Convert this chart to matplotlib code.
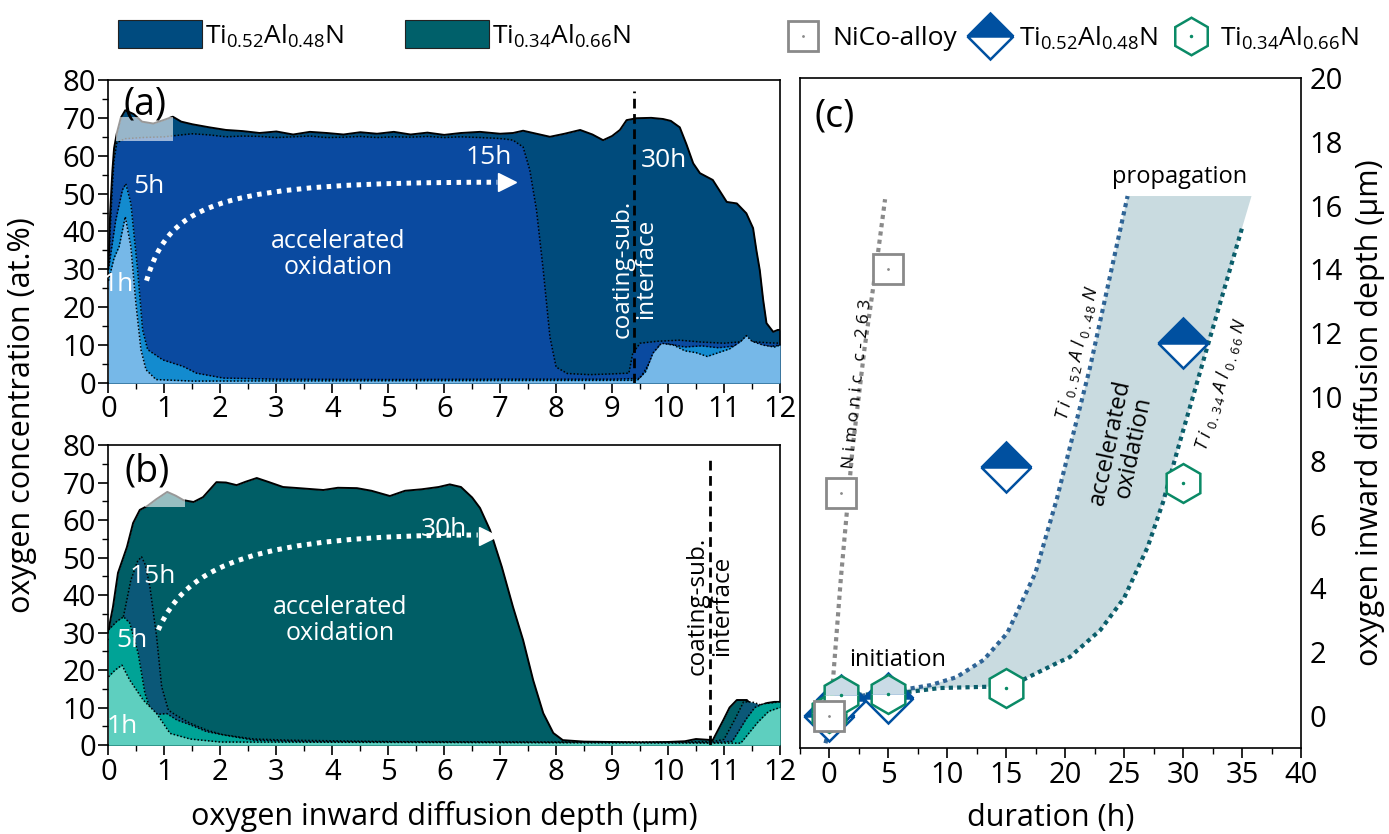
import matplotlib
matplotlib.use("Agg")
import matplotlib.pyplot as plt
from matplotlib.patches import Rectangle, Patch, PathPatch, Polygon
from matplotlib.lines import Line2D
from matplotlib.path import Path
from matplotlib.ticker import MultipleLocator

plt.rcParams['font.family'] = ['Open Sans', 'DejaVu Sans']
plt.rcParams['mathtext.fontset'] = 'custom'
plt.rcParams['mathtext.rm'] = 'Open Sans'
plt.rcParams['mathtext.it'] = 'Open Sans:italic'
plt.rcParams['mathtext.default'] = 'regular'

# ---------------- depth profiles, Ti0.52Al0.48N (panel a) ----------------
a30_x = [0.00, 0.03, 0.07, 0.10, 0.15, 0.22, 0.30, 0.45, 0.60, 0.80, 1.00, 1.15, 1.30, 1.50, 1.80,
         2.10, 2.40, 2.70, 3.00, 3.30, 3.60, 3.90, 4.20, 4.50, 4.80, 5.10, 5.40, 5.70, 6.00, 6.30,
         6.64, 7.00, 7.23, 7.41, 7.65, 7.89, 8.15, 8.43, 8.65, 8.84, 9.00, 9.14, 9.26, 9.44, 9.70,
         9.91, 10.05, 10.21, 10.33, 10.45, 10.57, 10.80, 11.05, 11.23, 11.40, 11.52, 11.58,
         11.64, 11.70, 11.76, 11.88, 11.96, 12.00]
a30_y = [30, 45, 56, 62, 66, 70, 72, 71, 69, 68.5, 69.5, 70.3, 69, 68.3, 67.5,
         66.8, 66.5, 66, 66.4, 65.6, 66.3, 66, 65.6, 66.2, 65.8, 66.3, 65.6, 66.1, 65.5, 66,
         66.3, 65.8, 66, 66.6, 65.8, 65, 65.8, 66.8, 65.6, 64.1, 65.2, 66.8, 69.4, 69.9, 70,
         69.7, 69.2, 67.5, 63, 58, 55.4, 53.6, 47.8, 47.4, 44.8, 40.9, 35,
         29.8, 22, 15.8, 13.5, 14, 14]

a15_x = [0.00, 0.03, 0.07, 0.10, 0.15, 0.30, 0.60, 1.00, 1.30, 1.50, 1.80, 2.10, 2.40, 2.70, 3.00,
         3.30, 3.60, 3.90, 4.20, 4.50, 4.80, 5.10, 5.40, 5.70, 6.00, 6.30, 6.64, 6.94, 7.10, 7.23,
         7.41, 7.53, 7.65, 7.77, 7.89, 8.00, 8.20, 8.60, 9.00, 9.30, 9.37, 9.50, 9.80, 10.20,
         10.60, 11.00, 11.40, 11.80, 12.00]
a15_y = [27, 40, 52, 59, 63.5, 64.5, 64.8, 65, 65.5, 65.8, 65.5, 65, 65.2, 65.1, 64.8,
         65.0, 65.2, 64.8, 64.9, 65.1, 64.8, 65, 64.9, 65.1, 64.8, 65, 64.8, 64.6, 64.4, 64.1,
         62.3, 56.2, 45.6, 29.8, 12.1, 4.2, 2.5, 2.2, 2.4, 2.6, 7.9, 10.5, 11, 11.3,
         10.8, 10.5, 11, 10.6, 10.5]

a5_x = [0.00, 0.13, 0.25, 0.31, 0.40, 0.52, 0.61, 0.70, 0.97, 1.33, 1.57, 2.05, 3.00, 5.00, 7.00,
        9.00, 9.50, 9.70, 9.85, 10.00, 10.30, 10.60, 10.90, 11.20, 11.50, 11.80, 12.00]
a5_y = [30, 43, 51, 52.6, 47.4, 30, 14, 8.8, 6.1, 4.4, 2.6, 1.3, 1.0, 0.9, 1.0,
        1.0, 1.2, 6, 10, 10.3, 9.5, 9.8, 9.3, 9.8, 10.2, 9.6, 10]

a1_x = [0.00, 0.10, 0.19, 0.30, 0.40, 0.49, 0.58, 0.67, 0.85, 1.50, 9.45, 9.60, 9.73, 9.88, 10.10,
        10.30, 10.50, 10.70, 10.90, 11.10, 11.30, 11.40, 11.50, 11.70, 11.90, 12.00]
a1_y = [27, 33, 36, 43.9, 36, 21, 8.8, 3.5, 0.9, 0.5, 0.7, 3, 7.9, 10.5, 10,
        8.5, 8, 7, 8, 9, 11, 12.5, 11, 10, 9.5, 10]

# ---------------- depth profiles, Ti0.34Al0.66N (panel b) ----------------
b30_x = [0.00, 0.03, 0.08, 0.17, 0.33, 0.44, 0.56, 0.69, 0.85, 1.05, 1.20, 1.34, 1.52, 1.69, 1.93,
         2.10, 2.29, 2.45, 2.65, 2.85, 3.12, 3.40, 3.84, 4.10, 4.44, 4.70, 5.03, 5.30, 5.60, 5.90,
         6.10, 6.30, 6.50, 6.64, 6.82, 7.03, 7.23, 7.41, 7.59, 7.77, 7.95, 8.12, 8.50, 9.00, 9.50,
         10.00, 10.30, 10.50, 10.70, 10.80, 10.99, 11.10, 11.23, 11.41, 11.50, 11.59, 11.77,
         11.90, 12.00]
b30_y = [30, 33, 36.8, 45.9, 52.8, 59.2, 62.7, 63.7, 65.5, 67.5, 66.5, 65.3, 64.8, 66.1, 70.1,
         70.0, 69.3, 70.2, 71.2, 70.2, 68.8, 68.5, 68, 68.6, 68.5, 67.8, 66.4, 67.8, 68.2, 68.8,
         69.5, 68.8, 66, 63.2, 57.3, 47.5, 36.8, 28, 17.3, 8.5, 3.2, 1.3, 0.9, 0.8, 0.7,
         0.8, 1.0, 1.6, 1.4, 1.3, 6.7, 10, 12, 12, 10.5, 10.2, 11.2,
         11.5, 11.5]

b15_x = [0.00, 0.10, 0.25, 0.40, 0.52, 0.59, 0.66, 0.74, 0.86, 0.95, 1.07, 1.20, 1.46, 1.75, 2.05,
         2.60, 3.20, 5.00, 8.00, 10.00, 10.80, 11.00, 11.20, 11.35, 11.50, 11.70, 12.00]
b15_y = [28, 30, 33, 44, 49, 50.2, 48, 42.2, 28.9, 15.6, 9.3, 8, 5.8, 4, 2.7,
         1.6, 1.3, 0.9, 0.8, 0.8, 0.9, 1.5, 7, 11.5, 11.5, 10.5, 11]

b5_x = [0.00, 0.15, 0.27, 0.38, 0.53, 0.65, 0.77, 0.90, 1.04, 1.22, 1.46, 1.75, 2.05, 2.60, 3.50,
        10.80, 11.15, 11.40, 11.55, 11.70, 12.00]
b5_y = [30.7, 33, 34.2, 32.5, 24.5, 13.9, 8.4, 8.2, 8.4, 6.7, 5.4, 3.6, 2.7, 1.3, 0.9,
        0.6, 1, 7, 10, 11, 11.5]

b1_x = [0.00, 0.12, 0.24, 0.38, 0.62, 0.86, 1.10, 1.46, 2.00, 11.30, 11.60, 11.80, 12.00]
b1_y = [18.2, 20, 21.3, 17.3, 12, 8.4, 3.1, 1.6, 0.8, 0.5, 6, 9, 10]

interface_a = 9.4
interface_b = 10.75

# ---------------- oxygen inward diffusion depth vs duration (panel c) ----------------
nico_t = [0, 1, 5]
nico_d = [0.0, 7.0, 14.0]
ti52_t = [0, 1, 5, 15, 30]
ti52_d = [0.0, 0.5, 0.56, 7.8, 11.7]
ti34_t = [0, 1, 5, 15, 30]
ti34_d = [0.1, 0.66, 0.69, 0.88, 7.3]

# guide curves
nim_t = [0.1, 1.0, 2.0, 3.0, 4.0, 4.75]
nim_d = [0.0, 4.3, 8.4, 11.5, 14.1, 16.2]
up_t = [-0.3, 0.5, 2.0, 5.0, 8.6, 10.8, 13.1, 15.1, 17.5, 19.3, 22.1, 25.3]
up_d = [-0.85, 0.3, 0.6, 0.75, 0.97, 1.22, 1.76, 2.6, 4.5, 6.8, 10.9, 16.3]
low_t = [1.0, 5.0, 6.6, 9.4, 13.4, 16.4, 19.3, 20.4, 23.0, 25.0, 27.0, 28.3, 29.5, 32.0, 35.0]
low_d = [0.66, 0.69, 0.75, 0.88, 0.92, 1.13, 1.66, 1.85, 2.7, 3.7, 5.3, 6.7, 8.3, 11.5, 15.3]
band_top = 16.3
band_right = 35.8

# ---------------- colours ----------------
c_a = {'30h': '#004b7c', '15h': '#0a4aa0', '5h': '#138bcf', '1h': '#76b8e8'}
c_b = {'30h': '#005e66', '15h': '#0b5878', '5h': '#00a396', '1h': '#5ecfbf'}
leg_a = '#004b7f'
leg_b = '#00606a'
c_nico = '#8a8a8a'
c_52 = '#0050a0'
c_34 = '#0a8a66'

fig = plt.figure(figsize=(13.89, 8.34), dpi=100)
axA = fig.add_axes([0.0781, 0.5408, 0.4834, 0.3633])
axB = fig.add_axes([0.0781, 0.1067, 0.4834, 0.3597])
axC = fig.add_axes([0.5756, 0.1031, 0.3611, 0.8034])

TICK = 21


def profile_panel(ax, series, colors):
    z = 1
    for key, (xs, ys) in series.items():
        ax.fill_between(xs, 0, ys, color=colors[key], lw=0, zorder=z)
        if key == '30h':
            ax.plot(xs, ys, color='black', lw=1.4, zorder=z + 0.5)
        else:
            ax.plot(xs, ys, color='black', lw=1.1, ls=(0, (1, 1.3)), zorder=z + 0.5)
        z += 1
    ax.set_xlim(0, 12)
    ax.set_ylim(0, 80)
    ax.xaxis.set_major_locator(MultipleLocator(1))
    ax.xaxis.set_minor_locator(MultipleLocator(0.5))
    ax.yaxis.set_major_locator(MultipleLocator(10))
    ax.yaxis.set_minor_locator(MultipleLocator(5))
    ax.tick_params(which='major', direction='out', length=7, width=1.2, labelsize=TICK, pad=2)
    ax.tick_params(which='minor', direction='out', length=4, width=1.0)
    for s in ax.spines.values():
        s.set_linewidth(1.2)


def dotted_arrow(ax, pts, head):
    path = Path(pts, [Path.MOVETO, Path.CURVE4, Path.CURVE4, Path.CURVE4])
    ax.add_patch(PathPatch(path, facecolor='none', edgecolor='white', lw=3.6,
                           ls=(0, (0.9, 1.1)), zorder=8))
    ax.plot([head[0]], [head[1]], marker='>', ms=13, color='white', mec='white', zorder=8)


# ---- panel (a)
profile_panel(axA, {'30h': (a30_x, a30_y), '15h': (a15_x, a15_y),
                    '5h': (a5_x, a5_y), '1h': (a1_x, a1_y)}, c_a)
axA.add_patch(Rectangle((0.13, 64), 1.02, 6.2, facecolor='white', alpha=0.6, lw=0, zorder=6))
axA.plot([interface_a, interface_a], [0, 77], color='black', lw=2, ls=(0, (3.5, 2)), zorder=7)
axA.text(0.65, 73.5, '(a)', fontsize=27, ha='center', va='center', zorder=9)
axA.text(0.72, 52, '5h', fontsize=19, color='white', ha='center', va='center', zorder=9)
axA.text(0.18, 26, '1h', fontsize=19, color='white', ha='center', va='center', zorder=9)
axA.text(6.8, 59.5, '15h', fontsize=19, color='white', ha='center', va='center', zorder=9)
axA.text(9.93, 58.8, '30h', fontsize=19, color='white', ha='center', va='center', zorder=9)
axA.text(4.1, 34, 'accelerated\noxidation', fontsize=18, color='white', ha='center',
         va='center', linespacing=1.05, zorder=9)
axA.text(interface_a, 30, 'coating-sub.\ninterface', fontsize=17.5, color='white', rotation=90,
         ha='center', va='center', linespacing=1.0, zorder=9)
dotted_arrow(axA, [(0.68, 27), (1.1, 48), (2.0, 53), (6.95, 53)], (7.12, 53))

# ---- panel (b)
profile_panel(axB, {'30h': (b30_x, b30_y), '15h': (b15_x, b15_y),
                    '5h': (b5_x, b5_y), '1h': (b1_x, b1_y)}, c_b)
axB.add_patch(Rectangle((0.65, 63.6), 0.72, 4.6, facecolor='white', alpha=0.6, lw=0, zorder=6))
axB.plot([interface_b, interface_b], [0, 77], color='black', lw=2, ls=(0, (3.5, 2)), zorder=7)
axB.text(0.69, 73, '(b)', fontsize=27, ha='center', va='center', zorder=9)
axB.text(0.8, 45, '15h', fontsize=19, color='white', ha='center', va='center', zorder=9)
axB.text(0.42, 28, '5h', fontsize=19, color='white', ha='center', va='center', zorder=9)
axB.text(0.24, 5, '1h', fontsize=19, color='white', ha='center', va='center', zorder=9)
axB.text(6.0, 57.5, '30h', fontsize=19, color='white', ha='center', va='center', zorder=9)
axB.text(4.14, 33.3, 'accelerated\noxidation', fontsize=18, color='white', ha='center',
         va='center', linespacing=1.05, zorder=9)
axB.text(interface_b, 37, 'coating-sub.\ninterface', fontsize=17.5, color='black', rotation=90,
         ha='center', va='center', linespacing=1.0, zorder=9)
dotted_arrow(axB, [(0.89, 30.7), (1.4, 48), (2.6, 56), (6.6, 56)], (6.78, 55.8))

fig.text(22 / 1389, 1 - 415 / 834, 'oxygen concentration (at.%)', rotation=90,
         fontsize=22, ha='center', va='center')
fig.text(444 / 1389, 1 - 817 / 834, 'oxygen inward diffusion depth (µm)',
         fontsize=22, ha='center', va='center')

# ---- panel (c)
band_x = up_t[3:] + [band_right] + low_t[::-1][:-1]
band_y = up_d[3:] + [band_top] + low_d[::-1][:-1]
band_x = band_x + [up_t[3]]
band_y = band_y + [up_d[3]]
axC.add_patch(Polygon(list(zip(band_x, band_y)), closed=True, facecolor='#c9dbe0',
                      edgecolor='none', zorder=1))
axC.plot(nim_t, nim_d, color=c_nico, lw=3, ls=(0, (1, 1)), zorder=2)
axC.plot(up_t, up_d, color='#2f6496', lw=3, ls=(0, (1, 1)), zorder=2)
axC.plot(low_t, low_d, color='#0b5e6b', lw=3, ls=(0, (1, 1)), zorder=2)

axC.plot(ti52_t, ti52_d, ls='none', marker='D', ms=25, fillstyle='top', mfc=c_52,
         mfcalt='white', mec=c_52, mew=1.8, zorder=3)
axC.plot(ti34_t[:3], ti34_d[:3], ls='none', marker='h', ms=28, fillstyle='top', mfc='#c9dbe6',
         mfcalt='white', mec=c_34, mew=1.8, zorder=4)
axC.plot(ti34_t[3:], ti34_d[3:], ls='none', marker='h', ms=28, mfc='white', mec=c_34,
         mew=1.8, zorder=4)
axC.plot(ti34_t, ti34_d, ls='none', marker='.', ms=3, color=c_34, zorder=4.5)
axC.plot(nico_t, nico_d, ls='none', marker='s', ms=22, mfc='white', mec=c_nico, mew=2.0,
         zorder=5)
axC.plot(nico_t, nico_d, ls='none', marker='.', ms=2, color=c_nico, zorder=5.5)

axC.set_xlim(-2.5, 40)
axC.set_ylim(-1, 20)
axC.xaxis.set_major_locator(MultipleLocator(5))
axC.xaxis.set_minor_locator(MultipleLocator(2.5))
axC.yaxis.set_major_locator(MultipleLocator(2))
axC.tick_params(axis='x', which='major', direction='out', length=7, width=1.2,
                labelsize=TICK, pad=2)
axC.tick_params(axis='x', which='minor', direction='out', length=4, width=1.0)
axC.tick_params(axis='y', which='both', left=False, right=True, labelleft=False,
                labelright=True, length=0, labelsize=TICK, pad=6)
for s in axC.spines.values():
    s.set_linewidth(1.2)
axC.set_xlabel('duration (h)', fontsize=22, labelpad=10)
axC.yaxis.set_label_position('right')
axC.set_ylabel('oxygen inward diffusion depth (µm)', fontsize=22, labelpad=8)

axC.text(0.5, 18.8, '(c)', fontsize=27, ha='center', va='center')
axC.text(29.7, 16.9, 'propagation', fontsize=17, ha='center', va='center')
axC.text(5.85, 1.75, 'initiation', fontsize=17, ha='center', va='center')
axC.text(24.8, 8.5, 'accelerated\noxidation', fontsize=17, ha='center', va='center',
         rotation=78, linespacing=1.0, rotation_mode='anchor', zorder=6)
axC.text(2.46, 10.4, 'N i m o n i c   c - 2 6 3', fontsize=12.5, ha='center', va='center',
         rotation=84, rotation_mode='anchor')
axC.text(21.0, 11.4, r'T i $_{\mathit{0\,.\,5\,2}}$ A l $_{\mathit{0\,.\,4\,8}}$ N', fontsize=13,
         style='italic', ha='center', va='center', rotation=77, rotation_mode='anchor')
axC.text(33.2, 10.4, r'T i $_{\mathit{0\,.\,3\,4}}$ A l $_{\mathit{0\,.\,6\,6}}$ N', fontsize=13,
         style='italic', ha='center', va='center', rotation=73, rotation_mode='anchor')

# ---- legends
lab52 = r'Ti$_{0.52}$Al$_{0.48}$N'
lab34 = r'Ti$_{0.34}$Al$_{0.66}$N'
h1 = [Patch(facecolor=leg_a, edgecolor='#222222', lw=0.8),
      Patch(facecolor=leg_b, edgecolor='#222222', lw=0.8)]
fig.legend(h1, [lab52, lab34], loc='center left', bbox_to_anchor=(118 / 1389, 1 - 35 / 834),
           ncol=2, frameon=False, fontsize=19, handlelength=3.2, handleheight=1.25,
           handletextpad=0.1, columnspacing=2.3, borderpad=0, borderaxespad=0)

sq = (Line2D([], [], ls='none', marker='s', ms=21, mfc='white', mec=c_nico, mew=2.0),
      Line2D([], [], ls='none', marker='.', ms=2, color=c_nico))
dm = Line2D([], [], ls='none', marker='D', ms=23, fillstyle='top', mfc=c_52, mfcalt='white',
            mec=c_52, mew=1.8)
hx = (Line2D([], [], ls='none', marker='h', ms=27, mfc='white', mec=c_34, mew=1.8),
      Line2D([], [], ls='none', marker='.', ms=3, color=c_34))
fig.legend([sq, dm, hx], ['NiCo-alloy', lab52, lab34], loc='center left',
           bbox_to_anchor=(786 / 1389, 1 - 38 / 834), ncol=3, frameon=False, fontsize=19,
           handlelength=1.3, handletextpad=0.45, columnspacing=0.6, borderpad=0,
           borderaxespad=0)

fig.savefig('out.png', dpi=100)
